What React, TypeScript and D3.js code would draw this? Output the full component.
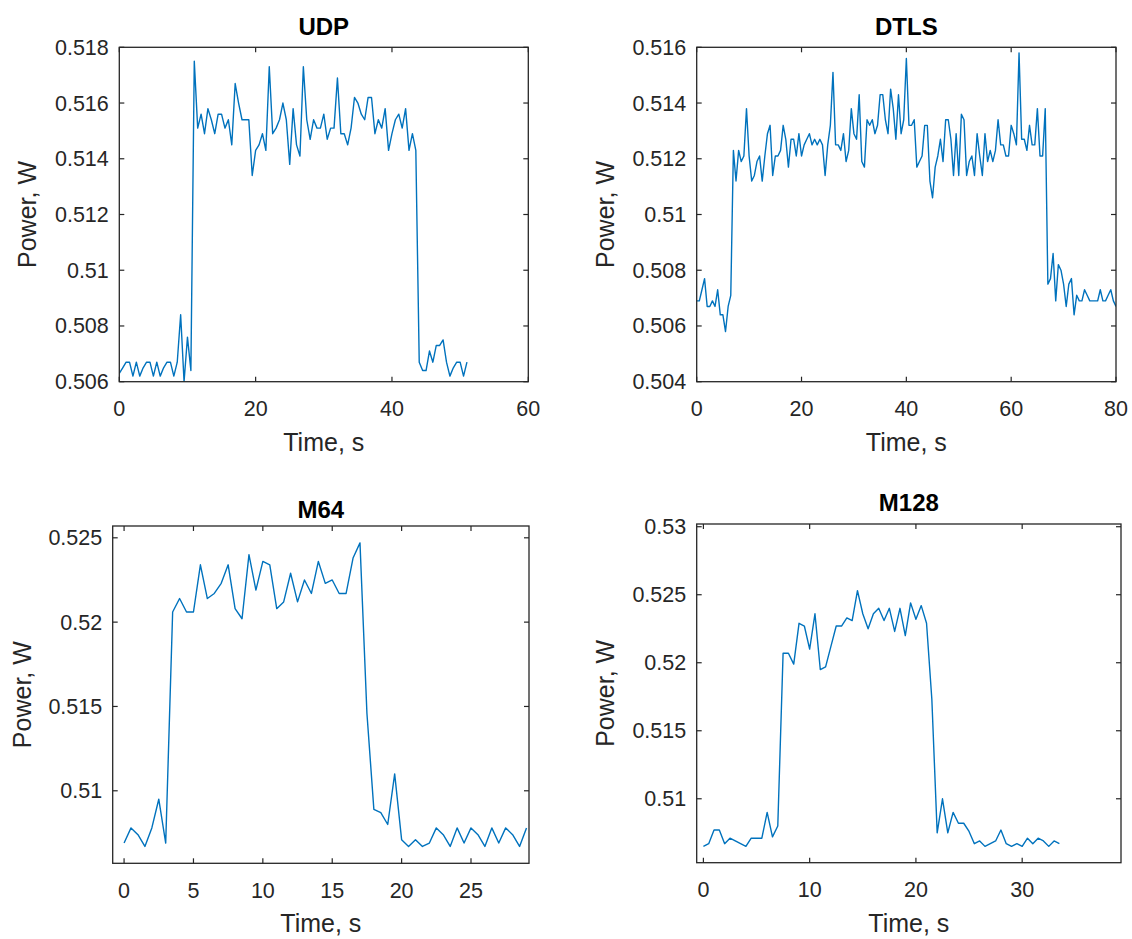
import React from 'react';
import * as d3 from 'd3';

// ---------------- DATA ----------------
const sampleStep = 0.5; // seconds between samples

const udpPower = [
  0.5063, 0.5065, 0.5067, 0.5067, 0.5062, 0.5067, 0.5062, 0.5065, 0.5067, 0.5067,
  0.5062, 0.5067, 0.5062, 0.5065, 0.5067, 0.5067, 0.5062, 0.5067, 0.5084, 0.5060,
  0.5076, 0.5064, 0.5175, 0.5151, 0.5156, 0.5149, 0.5158, 0.5154, 0.5149, 0.5156,
  0.5156, 0.5151, 0.5154, 0.5145, 0.5167, 0.5160, 0.5154, 0.5154, 0.5154, 0.5134,
  0.5143, 0.5145, 0.5149, 0.5143, 0.5173, 0.5149, 0.5151, 0.5154, 0.5160, 0.5154,
  0.5138, 0.5158, 0.5145, 0.5141, 0.5173, 0.5154, 0.5147, 0.5154, 0.5151, 0.5151,
  0.5156, 0.5147, 0.5151, 0.5151, 0.5169, 0.5149, 0.5149, 0.5145, 0.5151, 0.5162,
  0.5160, 0.5156, 0.5154, 0.5162, 0.5162, 0.5149, 0.5154, 0.5151, 0.5158, 0.5143,
  0.5149, 0.5154, 0.5156, 0.5151, 0.5158, 0.5143, 0.5149, 0.5143, 0.5067, 0.5064,
  0.5064, 0.5071, 0.5067, 0.5073, 0.5073, 0.5075, 0.5067, 0.5062, 0.5065, 0.5067,
  0.5067, 0.5062, 0.5067,
];

const dtlsPower = [
  0.5069, 0.5069, 0.5073, 0.5077, 0.5067, 0.5067, 0.5069, 0.5067, 0.5073, 0.5064,
  0.5064, 0.5058, 0.5067, 0.5071, 0.5123, 0.5112, 0.5123, 0.5119, 0.5121, 0.5138,
  0.5121, 0.5112, 0.5114, 0.5119, 0.5121, 0.5112, 0.5121, 0.5129, 0.5132, 0.5114,
  0.5121, 0.5121, 0.5123, 0.5132, 0.5127, 0.5117, 0.5127, 0.5127, 0.5121, 0.5129,
  0.5121, 0.5125, 0.5127, 0.5129, 0.5125, 0.5127, 0.5125, 0.5127, 0.5125, 0.5114,
  0.5125, 0.5132, 0.5151, 0.5125, 0.5125, 0.5123, 0.5129, 0.5119, 0.5123, 0.5138,
  0.5129, 0.5127, 0.5143, 0.5119, 0.5117, 0.5134, 0.5132, 0.5134, 0.5129, 0.5132,
  0.5143, 0.5143, 0.5134, 0.5129, 0.5145, 0.5138, 0.5127, 0.5143, 0.5129, 0.5134,
  0.5156, 0.5132, 0.5132, 0.5134, 0.5117, 0.5119, 0.5121, 0.5132, 0.5132, 0.5112,
  0.5106, 0.5117, 0.5121, 0.5127, 0.5119, 0.5134, 0.5134, 0.5127, 0.5114, 0.5129,
  0.5114, 0.5136, 0.5134, 0.5114, 0.5119, 0.5121, 0.5114, 0.5129, 0.5121, 0.5114,
  0.5129, 0.5119, 0.5123, 0.5119, 0.5123, 0.5134, 0.5125, 0.5125, 0.5121, 0.5121,
  0.5132, 0.5129, 0.5125, 0.5158, 0.5127, 0.5127, 0.5123, 0.5132, 0.5125, 0.5125,
  0.5138, 0.5121, 0.5121, 0.5138, 0.5075, 0.5077, 0.5086, 0.5069, 0.5082, 0.5080,
  0.5075, 0.5067, 0.5075, 0.5077, 0.5064, 0.5071, 0.5069, 0.5069, 0.5073, 0.5071,
  0.5069, 0.5069, 0.5069, 0.5069, 0.5073, 0.5069, 0.5069, 0.5071, 0.5073, 0.5069,
  0.5067,
];

const m64Power = [
  0.5069, 0.5078, 0.5074, 0.5067, 0.5078, 0.5095, 0.5069, 0.5206, 0.5214, 0.5206,
  0.5206, 0.5234, 0.5214, 0.5217, 0.5223, 0.5234, 0.5208, 0.5202, 0.5240, 0.5219,
  0.5236, 0.5234, 0.5208, 0.5212, 0.5229, 0.5212, 0.5225, 0.5217, 0.5236, 0.5223,
  0.5225, 0.5217, 0.5217, 0.5238, 0.5247, 0.5146, 0.5089, 0.5087, 0.5080, 0.5110,
  0.5071, 0.5067, 0.5071, 0.5067, 0.5069, 0.5078, 0.5074, 0.5067, 0.5078, 0.5069,
  0.5078, 0.5074, 0.5067, 0.5078, 0.5069, 0.5078, 0.5074, 0.5067, 0.5078,
];

const m128Power = [
  0.5065, 0.5067, 0.5077, 0.5077, 0.5067, 0.5071, 0.5069, 0.5067, 0.5065, 0.5071,
  0.5071, 0.5071, 0.5090, 0.5072, 0.5080, 0.5207, 0.5207, 0.5199, 0.5229, 0.5227,
  0.5210, 0.5236, 0.5195, 0.5197, 0.5212, 0.5227, 0.5227, 0.5233, 0.5231, 0.5253,
  0.5236, 0.5225, 0.5236, 0.5240, 0.5231, 0.5240, 0.5223, 0.5240, 0.5220, 0.5244,
  0.5232, 0.5242, 0.5229, 0.5173, 0.5075, 0.5100, 0.5075, 0.5090, 0.5082, 0.5082,
  0.5076, 0.5067, 0.5069, 0.5065, 0.5067, 0.5069, 0.5077, 0.5067, 0.5065, 0.5067,
  0.5065, 0.5071, 0.5067, 0.5071, 0.5069, 0.5065, 0.5069, 0.5067,
];

const udpXTicks = [0, 20, 40, 60];
const udpYTicks = [0.506, 0.508, 0.51, 0.512, 0.514, 0.516, 0.518];
const dtlsXTicks = [0, 20, 40, 60, 80];
const dtlsYTicks = [0.504, 0.506, 0.508, 0.51, 0.512, 0.514, 0.516];
const m64XTicks = [0, 5, 10, 15, 20, 25];
const m64YTicks = [0.51, 0.515, 0.52, 0.525];
const m128XTicks = [0, 10, 20, 30];
const m128YTicks = [0.51, 0.515, 0.52, 0.525, 0.53];

const titles = ['UDP', 'DTLS', 'M64', 'M128'];
const xLabel = 'Time, s';
const yLabel = 'Power, W';

// ---------------- LAYOUT ----------------
type Panel = {
  title: string;
  values: number[];
  xDomain: [number, number];
  yDomain: [number, number];
  xTicks: number[];
  yTicks: number[];
  l: number; r: number; t: number; b: number;
  titleY: number;
  yLabelX: number;
};

const panels: Panel[] = [
  { title: titles[0], values: udpPower, xDomain: [0, 60], yDomain: [0.506, 0.518], xTicks: udpXTicks, yTicks: udpYTicks,
    l: 119.3, r: 528.3, t: 47.3, b: 381.7, titleY: 34.5, yLabelX: 36 },
  { title: titles[1], values: dtlsPower, xDomain: [0, 80], yDomain: [0.504, 0.516], xTicks: dtlsXTicks, yTicks: dtlsYTicks,
    l: 696.7, r: 1116, t: 47.3, b: 381.7, titleY: 34.5, yLabelX: 614 },
  { title: titles[2], values: m64Power, xDomain: [-0.82, 29.18], yDomain: [0.5057, 0.5257], xTicks: m64XTicks, yTicks: m64YTicks,
    l: 112.7, r: 529, t: 526, b: 863.3, titleY: 518, yLabelX: 31 },
  { title: titles[3], values: m128Power, xDomain: [-0.63, 39.3], yDomain: [0.5053, 0.5302], xTicks: m128XTicks, yTicks: m128YTicks,
    l: 696.7, r: 1121, t: 524, b: 862.7, titleY: 511, yLabelX: 614 },
];

const FONT = '"Liberation Sans", Arial, Helvetica, sans-serif';
const AXIS_COLOR = '#262626';
const LINE_COLOR = '#0072BD';
const TICK_LEN = 5;

const fmt = (v: number) => String(+v.toFixed(4));

function PanelView({ p, idx }: { p: Panel; idx: number }) {
  const x = d3.scaleLinear().domain(p.xDomain).range([p.l, p.r]);
  const y = d3.scaleLinear().domain(p.yDomain).range([p.b, p.t]);
  const line = d3.line<number>()
    .x((_, i) => x(i * sampleStep))
    .y((d) => y(d));
  const clipId = `clip-${idx}`;
  const cx = (p.l + p.r) / 2;
  const cy = (p.t + p.b) / 2;
  return (
    <g>
      <defs>
        <clipPath id={clipId}>
          <rect x={p.l} y={p.t} width={p.r - p.l} height={p.b - p.t} />
        </clipPath>
      </defs>
      <rect x={p.l} y={p.t} width={p.r - p.l} height={p.b - p.t} fill="#fff" />
      <path d={line(p.values) || ''} fill="none" stroke={LINE_COLOR} strokeWidth={1.4}
        strokeLinejoin="round" clipPath={`url(#${clipId})`} />
      {/* ticks */}
      {p.xTicks.map((t) => (
        <g key={'xt' + t}>
          <line x1={x(t)} x2={x(t)} y1={p.b} y2={p.b - TICK_LEN} stroke={AXIS_COLOR} strokeWidth={1.2} />
          <line x1={x(t)} x2={x(t)} y1={p.t} y2={p.t + TICK_LEN} stroke={AXIS_COLOR} strokeWidth={1.2} />
          <text x={x(t)} y={p.b + 34.5} textAnchor="middle" fontFamily={FONT} fontSize={21.5} fill={AXIS_COLOR}>{fmt(t)}</text>
        </g>
      ))}
      {p.yTicks.map((t) => (
        <g key={'yt' + t}>
          <line x1={p.l} x2={p.l + TICK_LEN} y1={y(t)} y2={y(t)} stroke={AXIS_COLOR} strokeWidth={1.2} />
          <line x1={p.r} x2={p.r - TICK_LEN} y1={y(t)} y2={y(t)} stroke={AXIS_COLOR} strokeWidth={1.2} />
          <text x={p.l - 10.5} y={y(t) + 7.5} textAnchor="end" fontFamily={FONT} fontSize={21.5} fill={AXIS_COLOR}>{fmt(t)}</text>
        </g>
      ))}
      <rect x={p.l} y={p.t} width={p.r - p.l} height={p.b - p.t} fill="none" stroke={AXIS_COLOR} strokeWidth={1.3} />
      <text x={cx} y={p.titleY} textAnchor="middle" fontFamily={FONT} fontSize={24} fontWeight="bold" fill="#000">{p.title}</text>
      <text x={cx} y={p.b + 69} textAnchor="middle" fontFamily={FONT} fontSize={25} fill={AXIS_COLOR}>{xLabel}</text>
      <text transform={`translate(${p.yLabelX},${cy}) rotate(-90)`} textAnchor="middle" fontFamily={FONT} fontSize={25} fill={AXIS_COLOR}>{yLabel}</text>
    </g>
  );
}

export default function App() {
  return (
    <svg width={1132} height={939} viewBox="0 0 1132 939"
      style={{ position: 'absolute', left: 0, top: 0, background: '#fff' }}>
      <rect x={0} y={0} width={1132} height={939} fill="#fff" />
      {panels.map((p, i) => <PanelView key={p.title} p={p} idx={i} />)}
    </svg>
  );
}
